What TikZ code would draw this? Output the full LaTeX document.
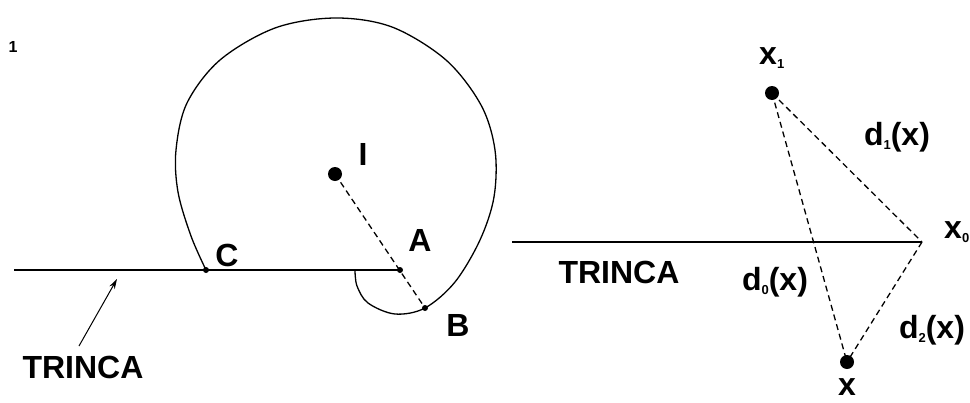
\documentclass[tikz,border=0pt]{standalone}
\usepackage{fontspec}
\setmainfont{Liberation Sans}
\usetikzlibrary{arrows.meta}
\newcommand{\mysub}[1]{\raisebox{-4pt}{\fontsize{13}{13}\selectfont #1}}
\tikzset{
  lbl/.style={font=\bfseries\fontsize{32}{32}\selectfont, inner sep=0pt},
  bigdot/.style={fill=black, draw=none},
  smalldot/.style={fill=black, draw=none},
  thin line/.style={line width=1.3pt},
  dash line/.style={line width=1.3pt, dash pattern=on 6pt off 4pt},
}
\begin{document}
\begin{tikzpicture}[x=1pt,y=-1pt]
\useasboundingbox (0,0) rectangle (970,402);
% --- left figure ---
\coordinate (L0) at (14,270);
\coordinate (C) at (206,270);
\coordinate (A) at (400,270);
\coordinate (B) at (425,308);
\coordinate (I) at (335,174);
\coordinate (arrTip) at (117,279);
\coordinate (arrTail) at (79,346);

\node[font=\bfseries\fontsize{16}{16}\selectfont, inner sep=0pt] (one) at (13,47) {1};

\draw[thin line] (L0) -- (A);
\draw[thin line] plot[smooth, tension=0.55] coordinates {
 (206,270) (191,236) (178,192) (176,150) (187,103) (220,60) (275,28) (335,18)
 (392,27) (446,60) (481,105) (495,150) (494,197) (480,240) (455,282) (425,308)
 (395,314) (368,303) (357,286) (355,270)};
\draw[dash line] (I) -- (B);
\fill[bigdot] (I) circle (7);
\fill[smalldot] (C) circle (3);
\fill[smalldot] (A) circle (3);
\fill[smalldot] (B) circle (3);
\node[lbl] (lI) at (363,154) {I};
\node[lbl] (lC) at (227,255) {C};
\node[lbl] (lA) at (420,240) {A};
\node[lbl] (lB) at (458,325) {B};
\node[lbl] (trincaL) at (83,367) {TRINCA};
\draw[line width=1pt, -{Stealth[length=10pt,width=6pt]}] (arrTail) -- (arrTip);

% --- right figure ---
\coordinate (R0) at (512,242);
\coordinate (X0) at (922,242);
\coordinate (X1) at (772,93);
\coordinate (X) at (847,362);
\draw[thin line] (R0) -- (X0);
\draw[dash line] (X1) -- (X0);
\draw[dash line] (X1) -- (X);
\draw[dash line] (X0) -- (X);
\fill[bigdot] (X1) circle (7);
\fill[bigdot] (X) circle (7);
\node[lbl] (trincaR) at (619,272) {TRINCA};
\node[lbl, anchor=west] (lX1) at (759,58) {x\mysub{1}};
\node[lbl, anchor=west] (lX0) at (944,232) {x\mysub{0}};
\node[lbl] (lX) at (847,387) {x};
\node[lbl] (d1) at (897,137) {d\mysub{1}(x)};
\node[lbl] (d0) at (775,282) {d\mysub{0}(x)};
\node[lbl] (d2) at (932,330) {d\mysub{2}(x)};
\end{tikzpicture}
\end{document}
